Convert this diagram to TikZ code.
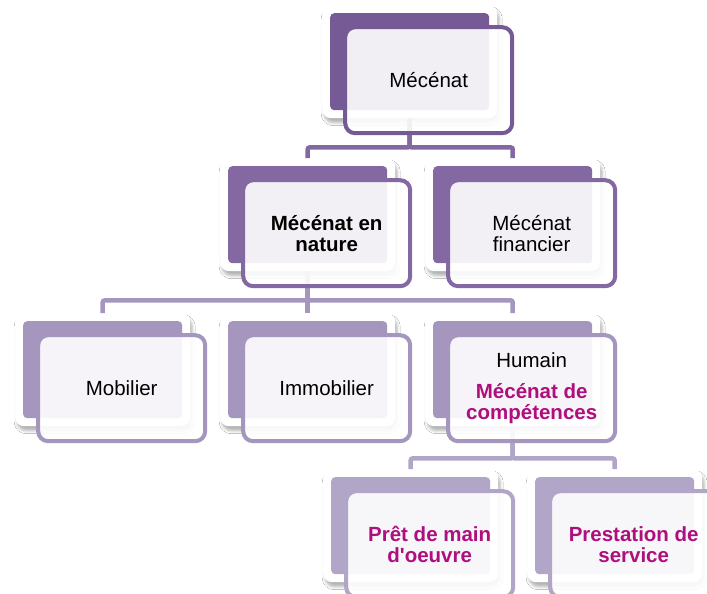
\documentclass[tikz,border=0pt]{standalone}
\usepackage{fontspec}
\setmainfont{Liberation Sans}
\usetikzlibrary{calc,shadows.blur}
\definecolor{lvlA}{RGB}{118,90,150}
\definecolor{lvlB}{RGB}{131,104,162}
\definecolor{lvlC}{RGB}{165,150,189}
\definecolor{lvlD}{RGB}{177,165,200}
\definecolor{accent}{RGB}{175,15,125}
\newcommand\hl[1]{\textcolor{accent}{\textbf{#1}}}
\tikzset{
    frame/.style={rectangle,fill=white,rounded corners=9pt,minimum width=175pt,minimum height=113pt,inner sep=0pt,anchor=north west,
        blur shadow={shadow xshift=2pt,shadow yshift=-4.5pt,shadow blur radius=3pt,shadow opacity=30}},
    backbox/.style={rectangle,fill=#1,rounded corners=4pt,minimum width=159pt,minimum height=97pt,inner sep=0pt},
    frontbox/.style={rectangle,draw=#1,line width=4pt,fill=white,fill opacity=0.9,text opacity=1,rounded corners=10pt,
        minimum width=167pt,minimum height=106pt,inner sep=0pt,align=center,font=\fontsize{20.5}{21}\selectfont},
    link/.style={draw=#1,line width=4.5pt,rounded corners=2pt}
}
\begin{document}
\begin{tikzpicture}[x=1pt,y=-1pt]
             \useasboundingbox (0,0) rectangle (707,594);
             \clip (0,0) rectangle (707,594);
             \fill[white] (0,0) rectangle (707,594);
             \foreach \n/\x/\y/\c in {top/322/5/lvlA,nat/220/158/lvlB,fin/425/158/lvlB,mob/15/313/lvlC,imm/220/313/lvlC,hum/425/313/lvlC,pret/323/469/lvlD,prest/527/469/lvlD} {
                 \node[frame] (\n) at (\x,\y) {};
                 \node[backbox=\c] at (\n) {};
             }
             \draw[link=lvlB] (top.south) -- ++(0,29) -| (nat.north);
             \draw[link=lvlB] (top.south) -- ++(0,29) -| (fin.north);
             \draw[link=lvlC] (nat.south) -- ++(0,29) -| (mob.north);
             \draw[link=lvlC] (nat.south) -- ++(0,29) -| (imm.north);
             \draw[link=lvlC] (nat.south) -- ++(0,29) -| (hum.north);
             \draw[link=lvlD] (hum.south) -- ++(0,32) -| (pret.north);
             \draw[link=lvlD] (hum.south) -- ++(0,32) -| (prest.north);
             \foreach \n/\c/\t in {top/lvlA/{Mécénat},nat/lvlB/{\textbf{Mécénat en}\\\textbf{nature}},fin/lvlB/{Mécénat\\financier},
                 mob/lvlC/{Mobilier},imm/lvlC/{Immobilier},hum/lvlC/{Humain\\[10pt]\hl{Mécénat de}\\\hl{compétences}},
                 pret/lvlD/{\hl{Prêt de main}\\\hl{d\textquotesingle oeuvre}},prest/lvlD/{\hl{Prestation de}\\\hl{service}}} {
                 \node[frontbox=\c] (\n-t) at ($(\n)+(19,18.5)$) {\t};
             }
        \end{tikzpicture}
\end{document}
